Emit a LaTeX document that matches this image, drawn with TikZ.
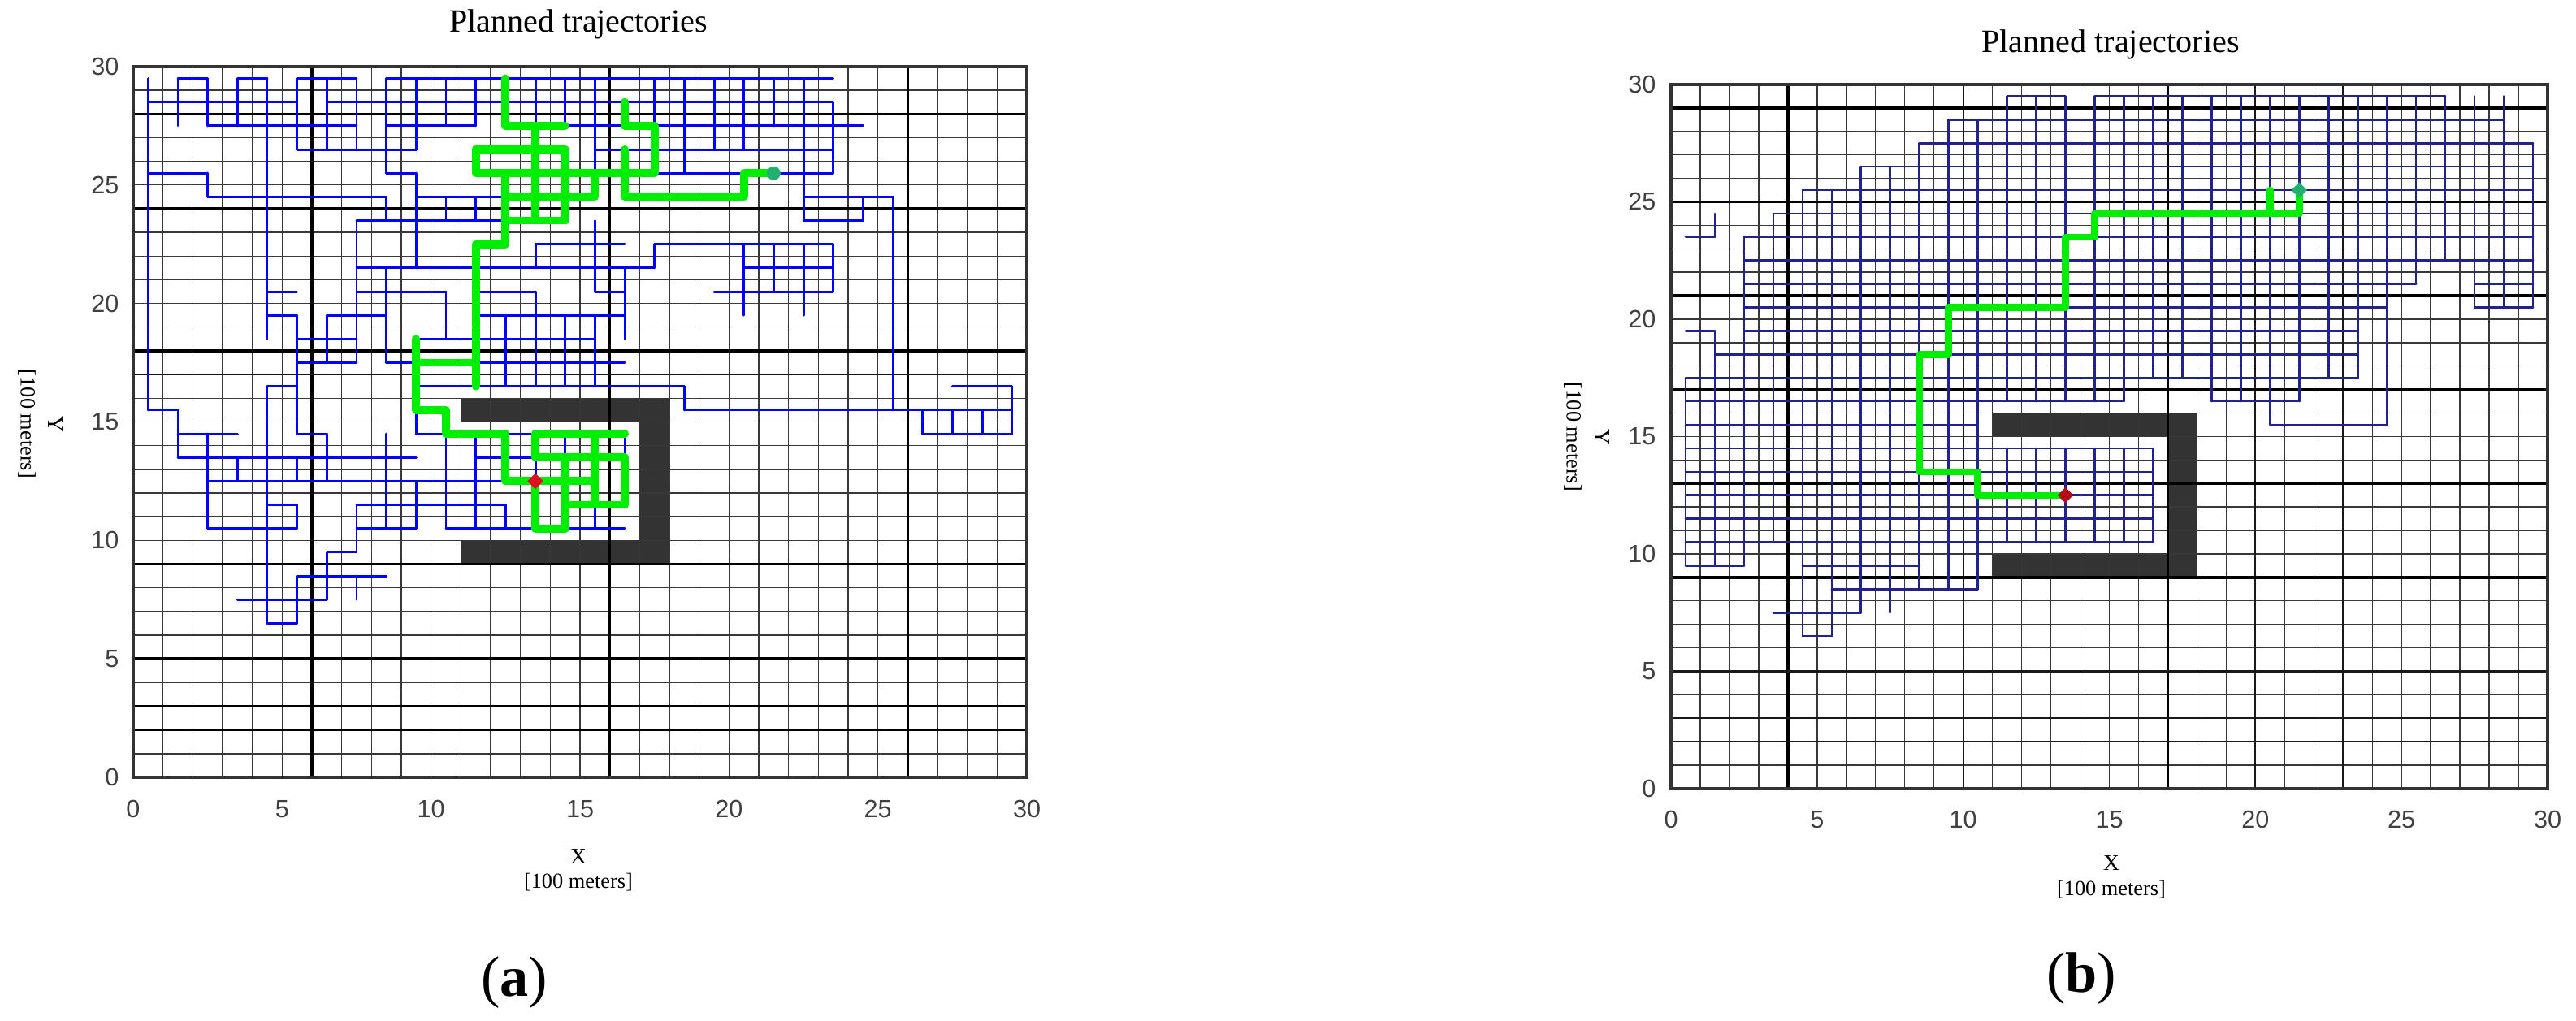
\documentclass[tikz,border=0pt]{standalone}
\usepackage{fontspec}
\setmainfont{Liberation Serif}
\newfontfamily\tickfont{Liberation Sans}
\usetikzlibrary{shapes.geometric}
\definecolor{navyb}{HTML}{22228F}
\definecolor{routegreen}{HTML}{00EE00}
\definecolor{obstc}{HTML}{333333}
\definecolor{startred}{HTML}{E01020}
\definecolor{goalgreen}{HTML}{20B070}
\begin{document}
\begin{tikzpicture}[
  gthin/.style={draw=black!78, line width=0.4pt},
  gmed/.style={draw=black!90, line width=0.65pt},
  gthick/.style={draw=black, line width=0.95pt},
  axisbox/.style={draw=black!80, line width=1pt},
  obst/.style={fill=obstc},
  treea/.style={draw=blue, line width=0.85pt, line cap=round},
  treeb/.style={draw=navyb, line width=0.75pt, line cap=round},
  routea/.style={draw=routegreen, line width=2.8pt, line join=round, line cap=round},
  routeb/.style={draw=routegreen, line width=2.4pt, line join=round, line cap=round},
  ticklab/.style={font=\tickfont\fontsize{8.7}{10}\selectfont, text=black!75, inner sep=0pt},
  ttl/.style={font=\fontsize{11.4}{13}\selectfont, inner sep=0pt},
  axlab/.style={font=\fontsize{7.8}{9}\selectfont, inner sep=0pt},
  unitlab/.style={font=\fontsize{7.5}{9}\selectfont, inner sep=0pt},
  sublab/.style={font=\fontsize{20}{24}\selectfont, inner sep=0pt},
  startmk/.style={diamond, fill=startred, inner sep=0pt, minimum size=0.2cm},
  goalmk/.style={circle, fill=goalgreen, inner sep=0pt, minimum size=0.17cm},
]
\useasboundingbox (0,0) rectangle (31.71,12.57);

% ---------------- panel (a) ----------------
\begin{scope}[shift={(1.64,3.00)}, x=0.36667cm, y=0.29167cm]
  \fill[obst] (11,15) rectangle (18,16);
  \fill[obst] (17,9) rectangle (18,16);
  \fill[obst] (11,9) rectangle (18,10);
  \foreach \i in {1,...,29} {\draw[gthin] (\i,0) -- (\i,30); \draw[gthin] (0,\i) -- (30,\i);}
  \foreach \i in {6,16,26} \draw[gthick] (\i,0) -- (\i,30);
  \foreach \i in {28,24,18,9,5,3,2} \draw[gthick] (0,\i) -- (30,\i);
  \draw[gmed] (0,17) -- (30,17);
  \draw[axisbox] (0,0) rectangle (30,30);
  % tree rows
  \foreach \y/\a/\b in {29.5/1.5/2.5, 29.5/3.5/4.5, 29.5/5.5/7.5, 29.5/8.5/23.5,
    28.5/0.5/5.5, 28.5/6.5/23.5,
    27.5/2.5/7.5, 27.5/8.5/11.5, 27.5/14.5/16.5, 27.5/17.5/24.5,
    26.5/5.5/9.5, 26.5/15.5/23.5,
    25.5/0.5/2.5, 25.5/8.5/9.5, 25.5/17.5/23.5,
    24.5/2.5/8.5, 24.5/9.5/12.5, 24.5/16.5/20.5, 24.5/22.5/25.5,
    23.5/7.5/12.5, 23.5/22.5/24.5,
    22.5/13.5/16.5, 22.5/17.5/23.5,
    21.5/7.5/17.5, 21.5/20.5/23.5,
    20.5/4.5/5.5, 20.5/7.5/10.5, 20.5/11.5/13.5, 20.5/15.5/16.5, 20.5/19.5/23.5,
    19.5/4.5/5.5, 19.5/6.5/8.5, 19.5/11.5/16.5,
    18.5/5.5/7.5, 18.5/9.5/15.5,
    17.5/5.5/7.5, 17.5/8.5/16.5,
    16.5/4.5/5.5, 16.5/9.5/18.5, 16.5/27.5/29.5,
    15.5/0.5/1.5, 15.5/18.5/29.5,
    14.5/1.5/3.5, 14.5/5.5/6.5, 14.5/9.5/10.5, 14.5/12.5/13.5, 14.5/26.5/29.5,
    13.5/1.5/9.5, 13.5/11.5/14.5,
    12.5/2.5/12.5,
    11.5/4.5/5.5, 11.5/7.5/12.5,
    10.5/2.5/5.5, 10.5/7.5/9.5, 10.5/10.5/16.5,
    9.5/6.5/7.5, 8.5/5.5/8.5, 7.5/3.5/6.5, 6.5/4.5/5.5}
    \draw[treea] (\a,\y) -- (\b,\y);
  % tree columns
  \foreach \x/\a/\b in {0.5/15.5/29.5,
    1.5/27.5/29.5, 1.5/13.5/15.5,
    2.5/27.5/29.5, 2.5/24.5/25.5, 2.5/10.5/14.5,
    3.5/27.5/29.5, 3.5/12.5/13.5,
    4.5/18.5/29.5, 4.5/6.5/16.5,
    5.5/26.5/29.5, 5.5/14.5/19.5, 5.5/12.5/13.5, 5.5/10.5/11.5, 5.5/6.5/8.5,
    6.5/26.5/29.5, 6.5/17.5/19.5, 6.5/12.5/14.5, 6.5/7.5/9.5,
    7.5/26.5/29.5, 7.5/17.5/23.5, 7.5/9.5/11.5, 7.5/7.5/8.5,
    8.5/25.5/29.5, 8.5/23.5/24.5, 8.5/17.5/21.5, 8.5/10.5/14.5,
    9.5/26.5/29.5, 9.5/21.5/25.5, 9.5/14.5/16.5, 9.5/10.5/12.5,
    10.5/27.5/29.5, 10.5/23.5/24.5, 10.5/18.5/20.5, 10.5/10.5/14.5,
    11.5/27.5/29.5, 11.5/23.5/24.5, 11.5/10.5/14.5,
    12.5/16.5/19.5, 12.5/10.5/11.5,
    13.5/27.5/29.5, 13.5/21.5/22.5, 13.5/16.5/20.5, 13.5/12.5/14.5,
    14.5/27.5/29.5, 14.5/16.5/19.5, 14.5/13.5/14.5,
    15.5/24.5/29.5, 15.5/20.5/23.5, 15.5/16.5/19.5, 15.5/10.5/11.5,
    16.5/18.5/21.5, 16.5/13.5/14.5,
    17.5/27.5/29.5, 17.5/21.5/22.5,
    18.5/25.5/29.5, 18.5/15.5/16.5,
    19.5/26.5/29.5,
    20.5/26.5/29.5, 20.5/19.5/22.5,
    21.5/27.5/29.5, 21.5/20.5/22.5,
    22.5/23.5/29.5, 22.5/19.5/22.5,
    23.5/25.5/28.5, 23.5/20.5/22.5,
    24.5/23.5/24.5,
    25.5/15.5/24.5,
    26.5/14.5/15.5, 27.5/14.5/15.5, 28.5/14.5/15.5, 29.5/14.5/16.5}
    \draw[treea] (\x,\a) -- (\x,\b);
  % planned route(s)
  \draw[routea] (12.5,29.5) -- (12.5,27.5) -- (14.5,27.5);
  \draw[routea] (13.5,27.5) -- (13.5,23.5);
  \draw[routea] (11.5,26.5) -- (14.5,26.5) -- (14.5,23.5);
  \draw[routea] (11.5,26.5) -- (11.5,25.5) -- (17.5,25.5) -- (17.5,27.5) -- (16.5,27.5) -- (16.5,28.5);
  \draw[routea] (14.5,25.5) -- (15.5,25.5) -- (15.5,24.5) -- (12.5,24.5);
  \draw[routea] (12.5,25.5) -- (12.5,22.5) -- (11.5,22.5) -- (11.5,16.5);
  \draw[routea] (12.5,23.5) -- (14.5,23.5);
  \draw[routea] (16.5,26.5) -- (16.5,24.5) -- (20.5,24.5) -- (20.5,25.5) -- (21.5,25.5);
  \draw[routea] (9.5,17.5) -- (11.5,17.5);
  \draw[routea] (9.5,18.5) -- (9.5,15.5) -- (10.5,15.5) -- (10.5,14.5) -- (12.5,14.5) -- (12.5,12.5) -- (15.5,12.5);
  \draw[routea] (13.5,14.5) -- (16.5,14.5);
  \draw[routea] (13.5,14.5) -- (13.5,13.5) -- (16.5,13.5) -- (16.5,11.5) -- (14.5,11.5);
  \draw[routea] (15.5,14.5) -- (15.5,11.5);
  \draw[routea] (14.5,13.5) -- (14.5,10.5) -- (13.5,10.5) -- (13.5,12.5);
  \node[startmk] (sa) at (13.5,12.5) {};
  \node[goalmk] (ga) at (21.5,25.5) {};
  % ticks
  \foreach \v in {0,5,...,30} {
    \node[ticklab, anchor=east] (ya\v) at ([xshift=-0.17cm]0,\v) {\v};
    \node[ticklab] (xa\v) at ([yshift=-0.39cm]\v,0) {\v};
  }
\end{scope}
\node[ttl] (ta) at (7.12,12.27) {Planned trajectories};
\node[axlab] (xla) at (7.12,2.02) {X};
\node[unitlab] (xua) at (7.12,1.71) {[100 meters]};
\node[axlab, rotate=-90] (yla) at (0.68,7.35) {Y};
\node[unitlab, rotate=-90] (yua) at (0.33,7.35) {[100 meters]};
\node[sublab] (la) at (6.33,0.47) {(\textbf{a})};

% ---------------- panel (b) ----------------
\begin{scope}[shift={(20.57,2.86)}, x=0.35967cm, y=0.289cm]
  \fill[obst] (11,15) rectangle (18,16);
  \fill[obst] (17,9) rectangle (18,16);
  \fill[obst] (11,9) rectangle (18,10);
  \foreach \i in {1,...,29} {\draw[gthin] (\i,0) -- (\i,30); \draw[gthin] (0,\i) -- (30,\i);}
  \foreach \i in {4,17} \draw[gthick] (\i,0) -- (\i,30);
  \foreach \i in {10,20,23} \draw[gmed] (\i,0) -- (\i,30);
  \foreach \i in {29,25,21,17,13,9} \draw[gthick] (0,\i) -- (30,\i);
  \foreach \i in {5,3,2} \draw[gmed] (0,\i) -- (30,\i);
  \draw[axisbox] (0,0) rectangle (30,30);
  \foreach \y/\a/\b in {29.5/11.5/13.5, 29.5/14.5/26.5,
    28.5/9.5/28.5, 27.5/8.5/29.5, 26.5/6.5/29.5, 25.5/4.5/29.5, 24.5/3.5/29.5,
    23.5/0.5/1.5, 23.5/2.5/29.5, 22.5/2.5/29.5,
    21.5/2.5/25.5, 21.5/27.5/29.5,
    20.5/2.5/24.5, 20.5/27.5/29.5,
    19.5/0.5/1.5, 19.5/2.5/23.5,
    18.5/1.5/23.5, 17.5/0.5/23.5,
    16.5/0.5/15.5, 16.5/18.5/21.5,
    15.5/0.5/10.5, 15.5/20.5/24.5,
    14.5/0.5/16.5, 13.5/0.5/16.5, 12.5/0.5/16.5, 11.5/0.5/16.5, 10.5/0.5/16.5,
    9.5/0.5/2.5, 9.5/4.5/8.5, 8.5/5.5/10.5, 7.5/3.5/6.5, 6.5/4.5/5.5}
    \draw[treeb] (\a,\y) -- (\b,\y);
  \foreach \x/\a/\b in {0.5/9.5/17.5,
    1.5/9.5/19.5, 1.5/23.5/24.5,
    2.5/9.5/23.5, 3.5/10.5/24.5, 4.5/6.5/25.5, 5.5/6.5/25.5,
    6.5/7.5/26.5, 7.5/7.5/26.5, 8.5/8.5/27.5, 9.5/8.5/28.5, 10.5/8.5/28.5,
    11.5/10.5/14.5, 11.5/16.5/29.5,
    12.5/10.5/14.5, 12.5/16.5/29.5,
    13.5/10.5/14.5, 13.5/16.5/29.5,
    14.5/10.5/14.5, 14.5/16.5/29.5,
    15.5/10.5/14.5, 15.5/16.5/29.5,
    16.5/10.5/14.5, 16.5/17.5/29.5,
    17.5/17.5/29.5, 18.5/16.5/29.5, 19.5/16.5/29.5,
    20.5/15.5/29.5, 21.5/16.5/29.5, 22.5/17.5/29.5, 23.5/17.5/29.5, 24.5/15.5/29.5,
    25.5/21.5/29.5, 26.5/22.5/29.5,
    27.5/20.5/29.5, 28.5/20.5/29.5, 29.5/20.5/27.5}
    \draw[treeb] (\x,\a) -- (\x,\b);
  \draw[routeb] (13.5,12.5) -- (10.5,12.5) -- (10.5,13.5) -- (8.5,13.5) -- (8.5,18.5) -- (9.5,18.5) -- (9.5,20.5) -- (13.5,20.5) -- (13.5,23.5) -- (14.5,23.5) -- (14.5,24.5) -- (21.5,24.5) -- (21.5,25.5);
  \draw[routeb] (20.5,24.5) -- (20.5,25.5);
  \node[startmk, fill=startred!80!black] (sb) at (13.5,12.5) {};
  \node[startmk, fill=goalgreen] (gb) at (21.5,25.5) {};
  \foreach \v in {0,5,...,30} {
    \node[ticklab, anchor=east] (yb\v) at ([xshift=-0.18cm]0,\v) {\v};
    \node[ticklab] (xb\v) at ([yshift=-0.38cm]\v,0) {\v};
  }
\end{scope}
\node[ttl] (tb) at (25.98,12.02) {Planned trajectories};
\node[axlab] (xlb) at (25.99,1.94) {X};
\node[unitlab] (xub) at (25.99,1.62) {[100 meters]};
\node[axlab, rotate=-90] (ylb) at (19.72,7.19) {Y};
\node[unitlab, rotate=-90] (yub) at (19.36,7.19) {[100 meters]};
\node[sublab] (lb) at (25.62,0.52) {(\textbf{b})};
\end{tikzpicture}
\end{document}
